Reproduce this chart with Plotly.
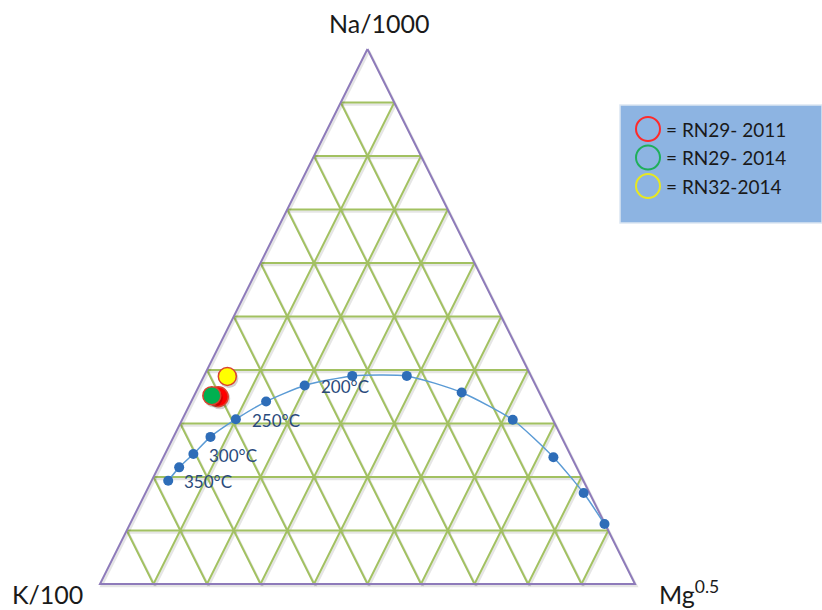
import plotly.graph_objects as go

# Full-equilibrium line, compositions in % (Na/1000, K/100, Mg^0.5)
curve_na = [19.3, 21.8, 24.3, 27.5, 30.8, 34.1, 37.1, 38.9, 38.9, 35.8, 30.7, 23.7, 17.0, 11.2]
curve_k = [77.6, 74.3, 70.4, 65.6, 59.2, 51.9, 43.2, 33.4, 23.2, 14.5, 7.5, 3.4, 1.1, 0.1]
curve_mg = [3.1, 3.9, 5.3, 6.9, 10.0, 14.0, 19.7, 27.7, 37.9, 49.7, 61.8, 72.9, 81.9, 88.7]

# Temperature labels attached to points of the line
temp_index = [0, 2, 4, 6]
temp_labels = ["350°C", "300°C", "250°C", "200°C"]

# Water samples
sample_names = ["RN29- 2011", "RN29- 2014", "RN32-2014"]
sample_na = [35.0, 35.2, 38.8]
sample_k = [60.4, 61.5, 56.8]
sample_mg = [4.6, 3.3, 4.4]
sample_colors = ["#FF0000", "#00B050", "#FFFF00"]
legend_rings = ["#FF2A2A", "#1FAF5A", "#E8E820"]

corner_labels = ["Na/1000", "K/100", "Mg<sup>0.5</sup>"]

GRID = "#A2C161"
FRAME = "#8E7BBA"
FONT = "Lato"


def to_xy(na, k, mg):
    """Ternary composition (%) -> plane coordinates; Na at apex, K left, Mg right."""
    tot = na + k + mg
    return (mg + na / 2.0) / tot, na / tot


W, H = 822, 610
X0_PX, X1_PX, YB_PX, YT_PX = 100, 635, 584, 49
sx = (X1_PX - X0_PX)
sy = (YB_PX - YT_PX)
xr = [-X0_PX / sx, (W - X0_PX) / sx]
yr = [(YB_PX - H) / sy, YB_PX / sy]

fig = go.Figure()

# triangular grid (10 divisions)
gx, gy = [], []
for i in range(1, 10):
    c = i * 10
    for a, b in [((c, 100 - c, 0), (c, 0, 100 - c)),      # constant Na
                 ((0, c, 100 - c), (100 - c, c, 0)),      # constant K
                 ((0, 100 - c, c), (100 - c, 0, c))]:     # constant Mg
        p, q = to_xy(*a), to_xy(*b)
        gx += [p[0], q[0], None]
        gy += [p[1], q[1], None]

# soft drop shadow under the grid lines
dx, dy = 1.5 / sx, -2.0 / sy
fig.add_trace(go.Scatter(x=[v + dx if v is not None else None for v in gx],
                         y=[v + dy if v is not None else None for v in gy],
                         mode="lines", line=dict(color="rgba(0,0,0,0.10)", width=2.5),
                         hoverinfo="skip", showlegend=False))
fig.add_trace(go.Scatter(x=gx, y=gy, mode="lines", line=dict(color=GRID, width=2),
                         hoverinfo="skip", showlegend=False))

# triangle frame
corners = [(100, 0, 0), (0, 100, 0), (0, 0, 100), (100, 0, 0)]
fx = [to_xy(*c)[0] for c in corners]
fy = [to_xy(*c)[1] for c in corners]
fig.add_trace(go.Scatter(x=[v + dx for v in fx], y=[v + dy for v in fy], mode="lines",
                         line=dict(color="rgba(0,0,0,0.10)", width=2.5),
                         hoverinfo="skip", showlegend=False))
fig.add_trace(go.Scatter(x=fx, y=fy, mode="lines", line=dict(color=FRAME, width=2),
                         hoverinfo="skip", showlegend=False))

# full-equilibrium line
cxy = [to_xy(a, b, c) for a, b, c in zip(curve_na, curve_k, curve_mg)]
cx = [p[0] for p in cxy]
cy = [p[1] for p in cxy]
fig.add_trace(go.Scatter(x=cx, y=cy, mode="lines+markers",
                         line=dict(color="#5B9BD5", width=1.5, shape="spline", smoothing=0.6),
                         marker=dict(color="#2E6DB8", size=10, line=dict(width=0)),
                         hoverinfo="skip", showlegend=False))

for idx, lab in zip(temp_index, temp_labels):
    fig.add_annotation(x=cx[idx], y=cy[idx], text=lab, showarrow=False,
                       xshift=40, yshift=-1, xanchor="center", yanchor="middle",
                       font=dict(family=FONT, size=17, color="#2A4A7C"))

# samples (drop shadow then marker)
sizes = [20, 18, 18]
for n, a, b, c, col, s in zip(sample_names, sample_na, sample_k, sample_mg, sample_colors, sizes):
    x, y = to_xy(a, b, c)
    fig.add_trace(go.Scatter(x=[x + 1.5 / sx], y=[y - 2 / sy], mode="markers",
                             marker=dict(color="rgba(0,0,0,0.18)", size=s + 1, line=dict(width=0)),
                             hoverinfo="skip", showlegend=False))
    fig.add_trace(go.Scatter(x=[x], y=[y], mode="markers", name=n,
                             marker=dict(color=col, size=s, line=dict(color="#D9432F", width=1.5)),
                             showlegend=False))

# corner labels
fig.add_annotation(xref="paper", yref="paper", x=379 / W, y=1 - 23 / H, text=corner_labels[0],
                   showarrow=False, xanchor="center", yanchor="middle",
                   font=dict(family=FONT, size=25, color="#1A1A1A"))
fig.add_annotation(xref="paper", yref="paper", x=47 / W, y=1 - 594 / H, text=corner_labels[1],
                   showarrow=False, xanchor="center", yanchor="middle",
                   font=dict(family=FONT, size=25, color="#1A1A1A"))
fig.add_annotation(xref="paper", yref="paper", x=657 / W, y=1 - 592 / H, text=corner_labels[2],
                   showarrow=False, xanchor="left", yanchor="middle",
                   font=dict(family=FONT, size=25, color="#1A1A1A"))

# key box
shapes = [dict(type="rect", xref="paper", yref="paper", x0=620 / W, x1=1.0,
               y0=1 - 223 / H, y1=1 - 105 / H, fillcolor="#8DB4E2",
               line=dict(color="#DCE6F2", width=1.5), layer="above")]
for i, (n, ring) in enumerate(zip(sample_names, legend_rings)):
    cyp = 129 + i * 28.5
    shapes.append(dict(type="circle", xref="paper", yref="paper",
                       x0=(648 - 12) / W, x1=(648 + 12) / W,
                       y0=1 - (cyp + 12) / H, y1=1 - (cyp - 12) / H,
                       line=dict(color=ring, width=2), fillcolor="rgba(0,0,0,0)", layer="above"))
    fig.add_annotation(xref="paper", yref="paper", x=664 / W, y=1 - cyp / H, text="= " + n,
                       showarrow=False, xanchor="left", yanchor="middle",
                       font=dict(family=FONT, size=19, color="#1A1A1A"))

fig.update_layout(
    width=W, height=H, autosize=False,
    margin=dict(l=0, r=0, t=0, b=0),
    paper_bgcolor="white", plot_bgcolor="white",
    xaxis=dict(range=xr, visible=False, fixedrange=True),
    yaxis=dict(range=yr, visible=False, fixedrange=True),
    shapes=shapes, showlegend=False,
)

fig.write_html("out.html")
